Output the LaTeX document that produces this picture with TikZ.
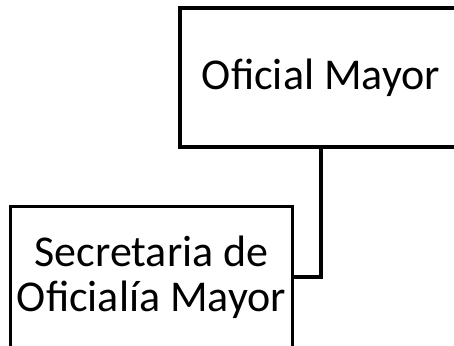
\documentclass[tikz,border=0pt]{standalone}
\usepackage{fontspec}
\setmainfont{Carlito}
\begin{document}
\begin{tikzpicture}[x=1pt, y=1pt,
    orgbox/.style={draw, line width=3.5pt, minimum width=282pt, minimum height=139pt,
                   inner sep=0pt, align=center, font=\fontsize{44}{45}\selectfont}]
    \useasboundingbox (0,0) rectangle (454,345);

    % Boxes
    \node[orgbox] (oficial) at (321,267.5) {Oficial Mayor};
    \node[orgbox, minimum height=141pt] (secretaria) at (151.5,68) {Secretaria de\\Oficialía Mayor};

    % Connector
    \draw[line width=3.5pt] (oficial.south) |- (secretaria.east);
\end{tikzpicture}
\end{document}
